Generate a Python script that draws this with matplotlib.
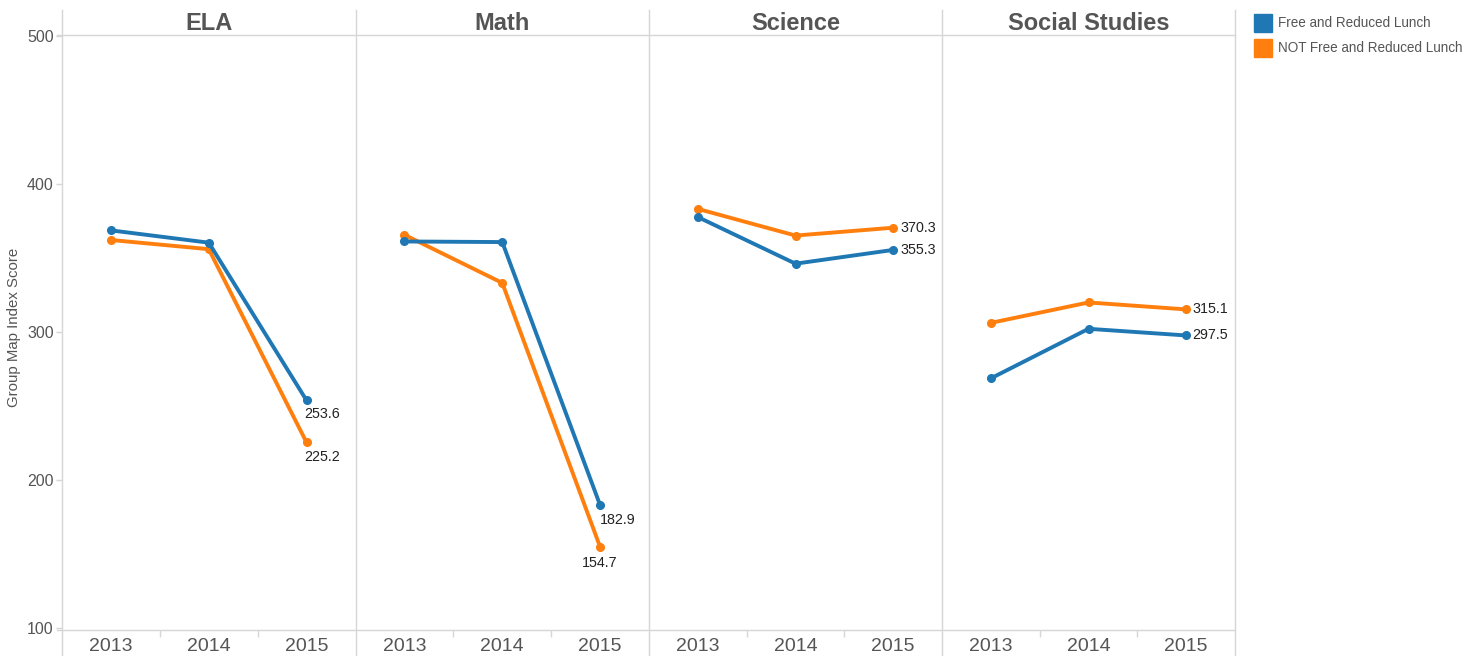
import matplotlib
matplotlib.use("Agg")
import matplotlib.pyplot as plt
from matplotlib.lines import Line2D
from matplotlib.patches import Rectangle

plt.rcParams['font.family'] = ['Liberation Sans', 'DejaVu Sans']

# ---- data ----
subjects = ["ELA", "Math", "Science", "Social Studies"]
years = ["2013", "2014", "2015"]
series_names = ["Free and Reduced Lunch", "NOT Free and Reduced Lunch"]
frl = {
    "ELA": [368.5, 360.2, 253.6],
    "Math": [361.0, 360.6, 182.9],
    "Science": [377.5, 346.0, 355.3],
    "Social Studies": [268.5, 302.0, 297.5],
}
not_frl = {
    "ELA": [362.0, 355.8, 225.2],
    "Math": [365.5, 333.0, 154.7],
    "Science": [383.0, 365.0, 370.3],
    "Social Studies": [306.0, 319.8, 315.1],
}
yticks = [100, 200, 300, 400, 500]
colors = ["#1f77b4", "#ff7f0e"]

W, H = 1482, 656
fig = plt.figure(figsize=(W / 100, H / 100), dpi=100)

def fx(x):
    return x / W

def fy(y):
    return 1 - y / H

edges = [62, 355.5, 649, 942, 1235]
top_px, bot_px = 35, 630
ymin, ymax = 98.5, 500.5
grid_c = "#d6d6d6"
text_c = "#555555"

# label placement per subject/series (style): (ha, va, dx_px, dy_px)
label_style = {
    ("ELA", 0): ("left", "center", -2, -14),
    ("ELA", 1): ("left", "center", -2, -15),
    ("Math", 0): ("left", "center", 0, -15),
    ("Math", 1): ("center", "center", 0, -16),
    ("Science", 0): ("left", "center", 7, 0),
    ("Science", 1): ("left", "center", 7, 0),
    ("Social Studies", 0): ("left", "center", 6, 0),
    ("Social Studies", 1): ("left", "center", 6, 0),
}

xs = list(range(len(years)))
axes = []
for i, subj in enumerate(subjects):
    x0, x1 = edges[i], edges[i + 1]
    ax = fig.add_axes([fx(x0), fy(bot_px), fx(x1 - x0), (bot_px - top_px) / H])
    ax.set_xlim(-0.5, 2.5)
    ax.set_ylim(ymin, ymax)
    ax.patch.set_alpha(0)
    for s in ax.spines.values():
        s.set_visible(False)
    for k, data in enumerate([frl, not_frl]):
        ax.plot(xs, data[subj], color=colors[k], lw=2.8, marker="o", ms=5.5,
                solid_capstyle="round", zorder=4 if k == 0 else 3)
        v = data[subj][-1]
        ha, va, dx, dy = label_style[(subj, k)]
        ax.annotate(f"{v:.1f}", (xs[-1], v), xytext=(dx * 0.72, dy * 0.72),
                    textcoords="offset points", ha=ha, va=va, fontsize=10.3,
                    color="#222222")
    ax.set_xticks(xs)
    ax.set_xticklabels(years, fontsize=14, color=text_c)
    ax.set_xticks([0.5, 1.5], minor=True)
    ax.tick_params(axis="x", which="major", length=0, pad=6)
    ax.tick_params(axis="x", which="minor", length=5, color=grid_c, width=1)
    ax.set_yticks(yticks)
    if i == 0:
        ax.set_yticklabels([str(t) for t in yticks], fontsize=11.5, color=text_c)
        ax.tick_params(axis="y", length=4, color=grid_c, width=1, pad=2)
    else:
        ax.tick_params(axis="y", left=False, labelleft=False)
    fig.text(fx((x0 + x1) / 2), fy(24), subj, ha="center", va="center",
             fontsize=17, fontweight="bold", color=text_c)
    axes.append(ax)

# frame lines
for e in edges:
    fig.add_artist(Line2D([fx(e), fx(e)], [fy(10), fy(H)], color=grid_c, lw=1))
for yy in (top_px, bot_px):
    fig.add_artist(Line2D([fx(57), fx(edges[-1])], [fy(yy), fy(yy)], color=grid_c, lw=1))

fig.text(fx(14), fy(327), "Group Map Index Score", rotation=90, ha="center",
         va="center", fontsize=10.8, color=text_c)

# legend
for k, name in enumerate(series_names):
    ytop = 14 + k * 25
    fig.add_artist(Rectangle((fx(1254), fy(ytop + 18)), fx(18), 18 / H,
                             color=colors[k], transform=fig.transFigure))
    fig.text(fx(1278), fy(ytop + 9), name, ha="left", va="center",
             fontsize=9.75, color=text_c)

fig.savefig("out.png", dpi=100)
